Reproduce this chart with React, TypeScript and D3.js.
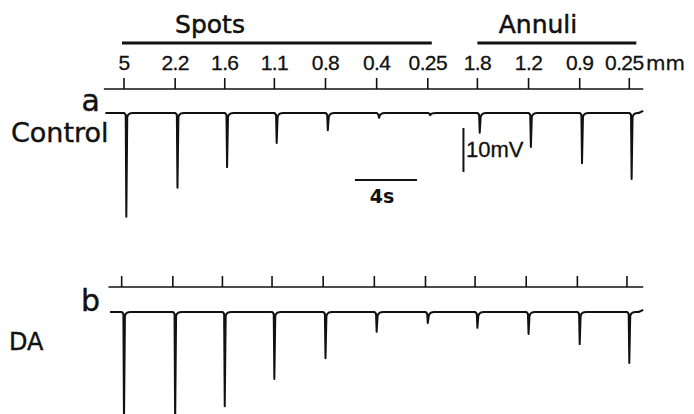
import React from "react";
import * as d3 from "d3";

// stimulus diameters (mm) and the time (s) each one was flashed
const stimLabels = ["5", "2.2", "1.6", "1.1", "0.8", "0.4", "0.25", "1.8", "1.2", "0.9", "0.25"];
const stimTimes = [0, 3.3, 6.5, 9.7, 13.0, 16.3, 19.6, 22.8, 26.1, 29.4, 32.6];
const spotIdx = [0, 6];
const annuliIdx = [7, 10];

// peak hyperpolarisation (mV) for each stimulus
const controlAmps = [23.6, 17.0, 12.3, 6.8, 3.9, 1.1, 0.5, 4.5, 7.7, 11.4, 15.0];
const daAmps = [25, 25, 21.4, 15.2, 10.5, 4.5, 2.5, 3.6, 5.0, 7.3, 11.6];

const W = 694, H = 414;
const FONT = "'DejaVu Sans', sans-serif";
const SANS = "'Liberation Sans', sans-serif";
const INK = "#111";

// time -> px (4 s == 62 px)
const x = d3.scaleLinear().domain([0, 4]).range([124, 186]);
// mV -> px for a trace whose resting level sits at `base`
const yFor = (base: number) => d3.scaleLinear().domain([0, -10]).range([base, base + 44]);

function traceData(amps: number[], latency: number, t0: number, t1: number) {
  const pts: [number, number][] = [[t0, 0]];
  stimTimes.forEach((s, i) => {
    const ts = s + latency, A = amps[i];
    const sh = Math.min(0.9, A * 0.5);
    pts.push([ts - 0.14, 0], [ts - 0.04, -Math.min(0.4, A * 0.3)], [ts, -A],
      [ts + 0.06, -sh], [ts + 0.12, -sh * 0.45], [ts + 0.22, -sh * 0.12], [ts + 0.4, 0]);
  });
  pts.push([t1 - 0.3, 0], [t1, 0.5]);
  return pts;
}

function Panel({ base, stimY, amps, shift, label, name, labelY, nameY, t0 }:
  { base: number; stimY: number; amps: number[]; shift: number; label: string; name: string; labelY: number; nameY: number; t0: number }) {
  const y = yFor(base);
  const line = d3.line<[number, number]>().x(d => x(d[0])).y(d => y(d[1]));
  return (
    <g>
      {/* stimulus marker */}
      <line x1={x(t0)} x2={x(33.5)} y1={stimY} y2={stimY} stroke={INK} strokeWidth={1.6} />
      {stimTimes.map((t, i) => (
        <line key={i} x1={x(t + shift)} x2={x(t + shift)} y1={stimY - 11} y2={stimY} stroke={INK} strokeWidth={1.6} />
      ))}
      <path d={line(traceData(amps, shift + 0.15, t0 + 0.1, 33.5)) || ""} fill="none" stroke={INK} strokeWidth={2} strokeLinejoin="round" />
      <text x={100} y={labelY} textAnchor="end" fontFamily={FONT} fontSize={30} fill={INK} stroke={INK} strokeWidth={0.4}>{label}</text>
      <text x={name === "DA" ? 9 : 11} y={nameY} fontFamily={FONT} fontSize={name === "DA" ? 24 : 27} fill={INK} stroke={INK} strokeWidth={0.4}>{name}</text>
    </g>
  );
}

export default function App() {
  const yA = yFor(113);
  const last = stimLabels.length - 1;
  return (
    <svg width={W} height={H} style={{ position: "absolute", left: 0, top: 0, background: "#fff" }}>
      {/* stimulus groups */}
      <text x={210} y={33} textAnchor="middle" fontFamily={FONT} fontSize={25} fill={INK} stroke={INK} strokeWidth={0.5}>Spots</text>
      <line x1={x(stimTimes[spotIdx[0]]) - 2} x2={x(stimTimes[spotIdx[1]]) + 4} y1={43} y2={43} stroke={INK} strokeWidth={3} />
      <text x={538} y={33} textAnchor="middle" fontFamily={FONT} fontSize={25} fill={INK} stroke={INK} strokeWidth={0.5}>Annuli</text>
      <line x1={x(stimTimes[annuliIdx[0]])} x2={x(stimTimes[annuliIdx[1]]) + 7} y1={43} y2={43} stroke={INK} strokeWidth={3} />
      {stimLabels.map((l, i) => (
        <text key={i} x={x(stimTimes[i]) - (i === last ? 5 : 0)} y={70} textAnchor="middle" fontFamily={SANS} fontSize={21}
          letterSpacing={-0.6} fill={INK} stroke={INK} strokeWidth={0.3}>{l}</text>
      ))}
      <text x={646} y={70} fontFamily={FONT} fontSize={20} fill={INK} stroke={INK} strokeWidth={0.3}>mm</text>

      <Panel base={113} stimY={89} amps={controlAmps} shift={0} label="a" name="Control" labelY={111} nameY={142} t0={-1.3} />
      <Panel base={312} stimY={287} amps={daAmps} shift={-0.15} label="b" name="DA" labelY={311} nameY={350} t0={-1.0} />

      {/* scale bars */}
      <line x1={x(21.9)} x2={x(21.9)} y1={yA(-3.4)} y2={yA(-13.4)} stroke={INK} strokeWidth={2} />
      <text x={466} y={157} fontFamily={SANS} fontSize={22} fill={INK} stroke={INK} strokeWidth={0.3}>10mV</text>
      <line x1={x(14.9)} x2={x(18.9)} y1={yA(-15.2)} y2={yA(-15.2)} stroke={INK} strokeWidth={2} />
      <text x={382} y={203} textAnchor="middle" fontFamily={FONT} fontSize={19} fontWeight="bold" fill={INK}>4s</text>
    </svg>
  );
}
